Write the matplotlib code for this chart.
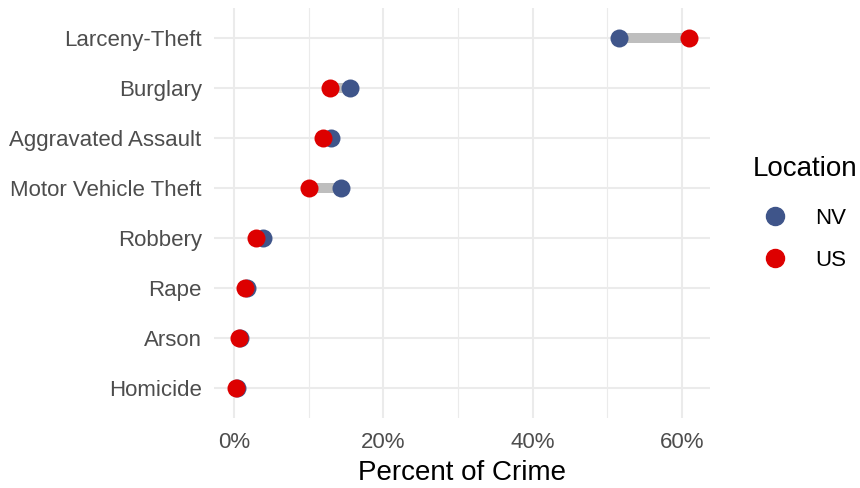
import matplotlib
matplotlib.use('Agg')
import matplotlib.pyplot as plt
from matplotlib.lines import Line2D
from matplotlib.ticker import FuncFormatter, MultipleLocator

plt.rcParams['font.family'] = ['Liberation Sans', 'DejaVu Sans']

# categories from bottom to top
crimes = ['Homicide', 'Arson', 'Rape', 'Robbery', 'Motor Vehicle Theft',
          'Aggravated Assault', 'Burglary', 'Larceny-Theft']
nv = [0.4, 0.8, 1.7, 3.8, 14.3, 13.0, 15.5, 51.5]
us = [0.3, 0.6, 1.4, 2.9, 10.0, 11.9, 12.8, 60.9]

nv_color = '#3F558A'
us_color = '#DD0000'

fig = plt.figure(figsize=(8.6, 4.88), dpi=100)
ax = fig.add_axes([0.249, 0.143, 0.577, 0.841])

ypos = list(range(len(crimes)))

# gray segments between the two points
ax.hlines(ypos, nv, us, color='#BEBEBE', linewidth=7.2, zorder=2)
ax.scatter(nv, ypos, s=168, color=nv_color, zorder=3, linewidths=0)
ax.scatter(us, ypos, s=168, color=us_color, zorder=4, linewidths=0)

ax.set_xlim(-2.68, 63.8)
ax.set_ylim(-0.6, 7.6)
ax.set_yticks(ypos)
ax.set_yticklabels(crimes)
ax.xaxis.set_major_locator(MultipleLocator(20))
ax.xaxis.set_minor_locator(MultipleLocator(10))
ax.xaxis.set_major_formatter(FuncFormatter(lambda v, p: '%d%%' % v))

ax.grid(True, which='major', color='#EBEBEB', linewidth=1.5, zorder=0)
ax.grid(True, which='minor', axis='x', color='#EBEBEB', linewidth=0.8, zorder=0)
ax.set_axisbelow(True)
for s in ax.spines.values():
    s.set_visible(False)
ax.tick_params(axis='both', which='both', length=0, labelsize=16,
               labelcolor='#4D4D4D')
ax.tick_params(axis='y', pad=9)
ax.tick_params(axis='x', pad=10)

ax.set_xlabel('Percent of Crime', fontsize=20, color='black', labelpad=5)

handles = [Line2D([], [], marker='o', linestyle='', markersize=13,
                  color=nv_color, label='NV'),
           Line2D([], [], marker='o', linestyle='', markersize=13,
                  color=us_color, label='US')]
leg = fig.legend(handles=handles, title='Location', loc='center left',
                 bbox_to_anchor=(0.865, 0.563), frameon=False, fontsize=16,
                 title_fontsize=20, labelspacing=0.95, handletextpad=0.8,
                 borderaxespad=0)
leg._legend_box.align = 'left'
leg._legend_box.sep = 19

fig.savefig('out.png', dpi=100)
